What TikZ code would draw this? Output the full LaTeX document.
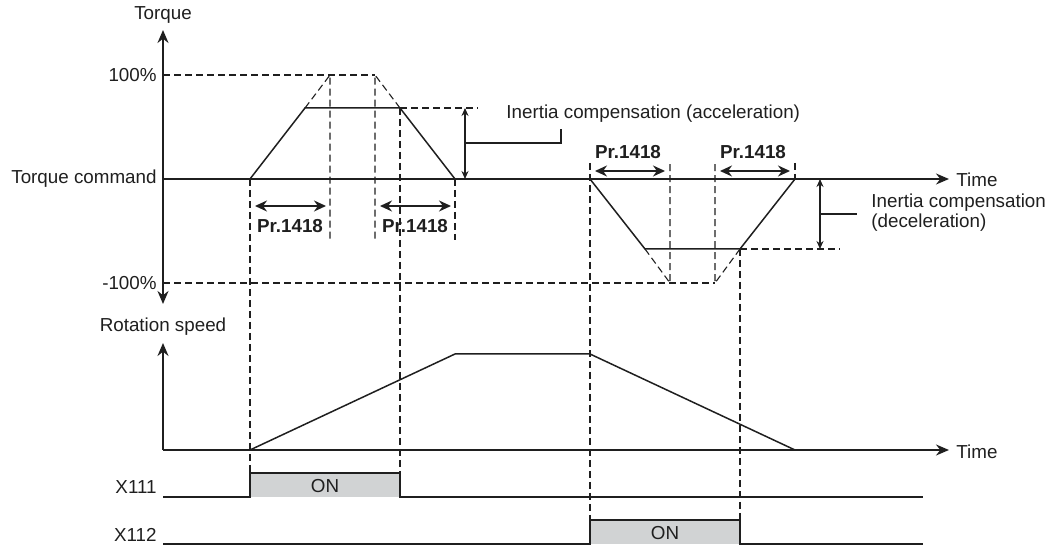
\documentclass[tikz,border=0pt]{standalone}
\usepackage{fontspec}
\setmainfont{Liberation Sans}
\usepackage{xcolor}
\usepackage{tikz}
\usetikzlibrary{arrows.meta}
\colorlet{ink}{black!88}
\definecolor{onfill}{RGB}{209,211,212}
\tikzset{
  % node options
  lbl/.style={inner sep=0pt,text=ink,font=\fontsize{9.4}{10}\selectfont},
  prlbl/.style={lbl,font=\fontsize{9.4}{10}\selectfont\bfseries},
  % path options
  wave/.style={draw=ink,line width=0.75pt,line join=miter},
  guide/.style={draw=ink,line width=0.55pt,dash pattern=on 3.5pt off 2pt},
  axis/.style={wave,-{Stealth[length=6.5pt,width=5.5pt]}},
  span/.style={wave,{Stealth[length=6pt,width=5.5pt]}-{Stealth[length=6pt,width=5.5pt]}},
  comp/.style={wave,line width=0.65pt,{Stealth[length=4pt,width=3.5pt]}-{Stealth[length=4pt,width=3.5pt]}},
  onbox/.style={fill=onfill,draw=none},
}

\begin{document}
\begin{tikzpicture}[x=0.5pt,y=-0.5pt]
  \useasboundingbox (0,0) rectangle (1046,550);

  % torque axis
  \coordinate (tq0) at (163,179);
  \coordinate (tqTop) at (163,30);
  \coordinate (tqBot) at (163,304);
  \coordinate (tqEnd) at (949,179);
  \draw[axis] (tq0) -- (tqTop);
  \draw[axis] (tq0) -- (tqBot);
  \draw[axis] (tq0) -- (tqEnd);
  \node[lbl] (torque) at (163,15) {Torque};
  \node[lbl,anchor=east] (plus) at (157,75) {100\%};
  \node[lbl,anchor=east] (cmd) at (157,179) {Torque command};
  \node[lbl,anchor=east] (minus) at (157,283) {-100\%};
  \node[lbl,anchor=west] (time1) at (956,180) {Time};

  % guide lines
  \draw[guide] (163,75) -- (375,75);
  \draw[guide] (163,283) -- (715,283);
  \draw[guide] (305,108) -- (330,75) -- (330,240);
  \draw[guide] (400,108) -- (375,75) -- (375,240);
  \draw[guide] (455,179) -- (455,240);
  \draw[guide] (400,108) -- (478,108);
  \draw[guide] (250,179) -- (250,473);
  \draw[guide] (400,108) -- (400,473);
  \draw[guide] (645,249) -- (670,283) -- (670,163);
  \draw[guide] (740,249) -- (715,283) -- (715,163);
  \draw[guide] (590,163) -- (590,520);
  \draw[guide] (740,249) -- (740,520);
  \draw[guide] (795,163) -- (795,179);
  \draw[guide] (740,249) -- (840,249);

  % torque command
  \draw[wave] (tq0) -- (250,179) -- (305,108) -- (400,108) -- (455,179)
    -- (590,179) -- (645,249) -- (740,249) -- (795,179) -- (860,179);

  % Pr.1418 spans
  \draw[span] (255,206) -- (326,206);
  \node[prlbl] (pr1) at (290,226) {Pr.1418};
  \draw[span] (380,206) -- (451,206);
  \node[prlbl] (pr2) at (415,226) {Pr.1418};
  \draw[span] (595,171) -- (665,171);
  \node[prlbl] (pr3) at (628,152) {Pr.1418};
  \draw[span] (720,171) -- (790,171);
  \node[prlbl] (pr4) at (753,152) {Pr.1418};

  % inertia compensation
  \draw[comp] (465,108) -- (465,179);
  \node[lbl,anchor=west] (accel) at (506,114) {Inertia compensation (acceleration)};
  \draw[wave,line width=0.65pt] (465,143) -- (561,143) -- (561,129);
  \draw[comp] (820,179) -- (820,249);
  \node[lbl,anchor=west,align=left] (decel) at (871,213)
    {Inertia compensation\\(deceleration)};
  \draw[wave,line width=0.65pt] (820,214) -- (857,214);

  % rotation speed
  \coordinate (sp0) at (163,450);
  \draw[axis] (sp0) -- (163,343);
  \draw[axis] (sp0) -- (949,450);
  \node[lbl] (speed) at (163,327) {Rotation speed};
  \node[lbl,anchor=west] (time2) at (956,452) {Time};
  \draw[wave] (250,450) -- (455,354) -- (590,354) -- (795,450);

  % X111 / X112
  \fill[onbox] (250,473) rectangle (400,497);
  \draw[wave] (163,497) -- (250,497) -- (250,473) -- (400,473) -- (400,497) -- (923,497);
  \node[lbl] (on1) at (325,486) {ON};
  \node[lbl,anchor=east] (x111) at (157,487) {X111};
  \fill[onbox] (590,520) rectangle (740,544);
  \draw[wave] (163,544) -- (590,544) -- (590,520) -- (740,520) -- (740,544) -- (923,544);
  \node[lbl] (on2) at (665,533) {ON};
  \node[lbl,anchor=east] (x112) at (157,535) {X112};
\end{tikzpicture}
\end{document}
